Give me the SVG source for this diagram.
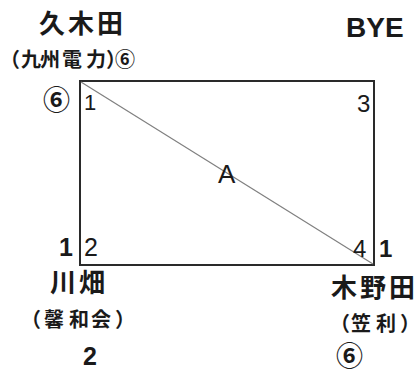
<svg xmlns="http://www.w3.org/2000/svg" width="419" height="376" viewBox="0 0 419 376">
<style>
.jp{font-family:"Noto Sans CJK JP","Noto Sans CJK SC",sans-serif;font-weight:bold;fill:#1a1a1a}
.nm{font-size:26px;letter-spacing:3px}
.sub{font-size:20px}
.num{font-family:"Liberation Sans",Arial,sans-serif;fill:#1a1a1a}
.b{font-weight:bold}
.circ{font-family:"Noto Sans CJK JP",sans-serif;font-weight:bold;fill:#1a1a1a}
</style>
<rect width="419" height="376" fill="#fff"/>
<g id="connectors">
<rect x="80" y="81" width="294" height="184" fill="none" stroke="#2a2a2a" stroke-width="2"/>
<line x1="81" y1="82" x2="373" y2="264" stroke="#808080" stroke-width="1.2"/>
</g>
<g id="node-kukita">
<text class="jp nm" x="39" y="33">久木田</text>
<text class="jp sub" x="0 21 40 62 86 106 115" y="67">（九州電力）⑥</text>
<text class="circ" x="43" y="110" font-size="27">⑥</text>
<text class="num" x="84" y="110" font-size="22">1</text>
</g>
<g id="node-bye">
<text class="num b" x="346" y="37" font-size="28">BYE</text>
<text class="num" x="357" y="112" font-size="24">3</text>
</g>
<g id="node-kawabata">
<text class="num b" x="59" y="256" font-size="25">1</text>
<text class="num" x="84" y="256" font-size="25">2</text>
<text class="jp nm" x="50" y="292">川畑</text>
<text class="jp sub" x="21 44 69 91 115" y="327">（馨和会）</text>
<text class="num b" x="83" y="365" font-size="25">2</text>
</g>
<g id="node-kinoda">
<text class="num" x="353" y="257" font-size="24">4</text>
<text class="num b" x="379" y="257" font-size="24">1</text>
<text class="jp nm" x="331" y="297">木野田</text>
<text class="jp sub" x="330 351 376 400" y="331">（笠利）</text>
<text class="circ" x="336" y="366" font-size="27">⑥</text>
</g>
<g id="label-a">
<text class="num" x="218" y="183" font-size="26">A</text>
</g>
</svg>
